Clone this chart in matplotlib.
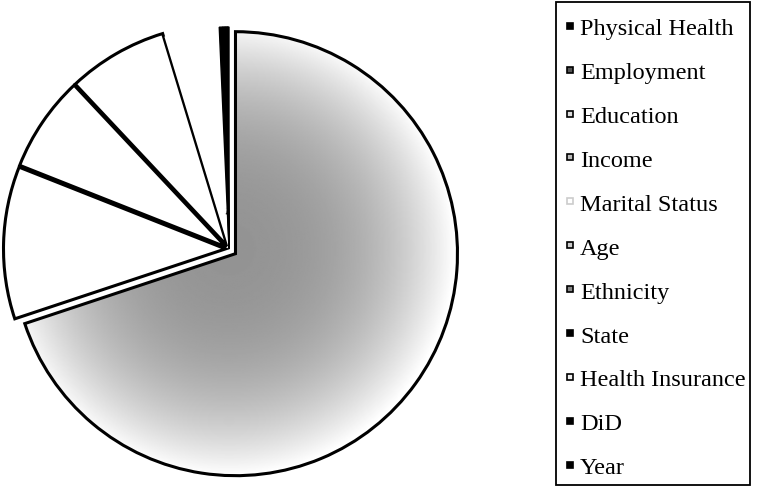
import matplotlib.pyplot as plt
import numpy as np
from matplotlib.lines import Line2D
from matplotlib.patches import Rectangle

plt.rcParams["font.family"] = ["Liberation Serif", "DejaVu Serif"]

# shares, clockwise from 12 o'clock
categories = ["Physical Health", "Employment", "Education", "Income", "Marital Status",
              "Age", "Ethnicity", "State", "Health Insurance", "DiD", "Year"]
shares = [69.9, 11.1, 7.0, 7.3, 4.0, 0.25, 0.1, 0.1, 0.1, 0.05, 0.1]
explode_px = [8, 3.5, 3.5, 3.5, 0, 0, 0, 0, 0, 0, 0]
slice_fill = ["#a0a0a0", "white", "white", "white", "white",
              "black", "black", "black", "black", "black", "black"]
legend_fill = ["black", "#555555", "#dddddd", "#bbbbbb", "white",
               "#cccccc", "#888888", "black", "#eeeeee", "black", "black"]

W, H = 762, 489
fig = plt.figure(figsize=(W / 100, H / 100), dpi=100)
ax = fig.add_axes([0, 0, 1, 1])

cx, cy, R = 229, H - 250, 222
wedges, _ = ax.pie(shares, explode=explode_px, colors=slice_fill, startangle=90,
                   counterclock=False, center=(cx, cy), radius=R,
                   wedgeprops=dict(edgecolor="black", linewidth=2.2))
wedges[4].set_edgecolor("none")
for w in wedges[5:]:
    w.set_linewidth(1.0)

# radial shading of the large slice, darker towards the middle
big = wedges[0]
yy, xx = np.mgrid[cy - R - 30:cy + R + 30:400j, cx - R:cx + R + 40:400j]
rr = np.hypot(xx - cx, yy - cy) / R
shade = np.clip(0.58 + 0.40 * rr ** 2.5, 0, 1)
img = ax.imshow(shade, cmap="gray", vmin=0, vmax=1, origin="lower",
                extent=(cx - R, cx + R + 40, cy - R - 30, cy + R + 30),
                interpolation="bilinear", zorder=big.get_zorder() - 0.1)
img.set_clip_path(big)
big.set_facecolor("none")

ax.text(226, H - 212, "1", fontsize=7, ha="center", va="center", rotation=-10)

ax.set_xlim(0, W)
ax.set_ylim(0, H)
ax.set_aspect("equal")
ax.axis("off")

handles = [Line2D([], [], marker="s", linestyle="none", markersize=5,
                  markerfacecolor=fc, markeredgecolor="black" if i != 4 else "#cccccc",
                  markeredgewidth=1.2)
           for i, fc in enumerate(legend_fill)]
fig.legend(handles, categories, loc="upper left",
           bbox_to_anchor=(558 / W, 1 - 11 / H, 192 / W, 0), mode="expand",
           fontsize=17.5, frameon=False, borderpad=0.3,
           labelspacing=0.9, handlelength=0.35, handletextpad=0.25,
           borderaxespad=0)
fig.patches.append(Rectangle((556 / W, 1 - 486 / H), 194 / W, 483 / H,
                             transform=fig.transFigure, fill=False,
                             edgecolor="black", linewidth=1.3))

fig.savefig("out.png", dpi=100)
